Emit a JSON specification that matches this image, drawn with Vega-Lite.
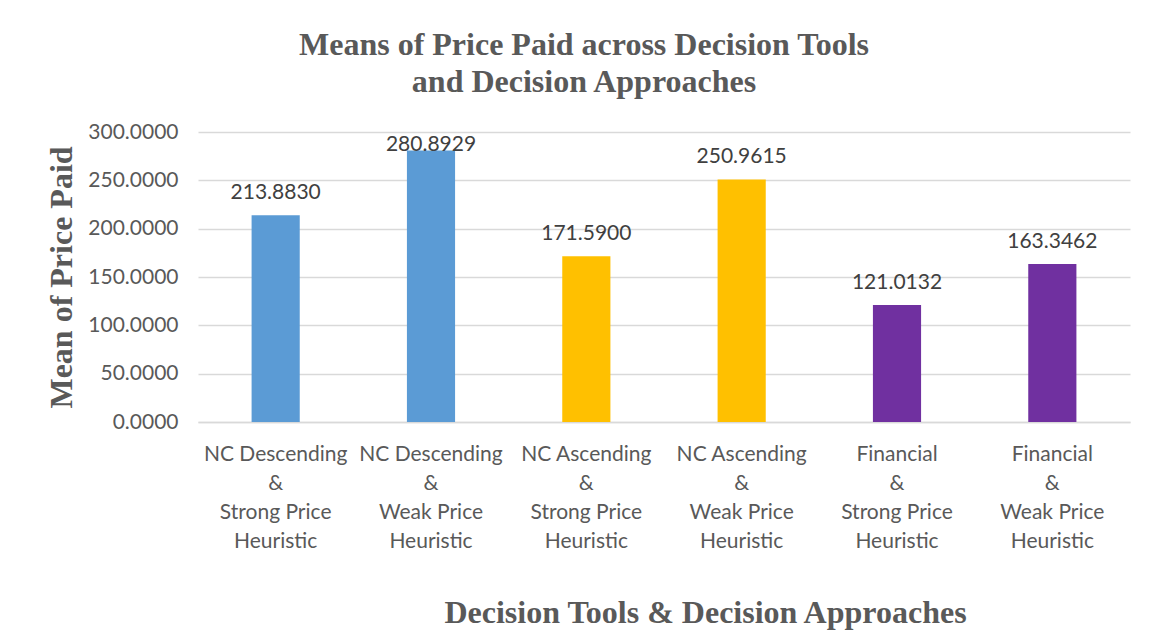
{
  "$schema": "https://vega.github.io/schema/vega-lite/v6.json",
  "autosize": "none",
  "width": 932,
  "height": 290,
  "padding": {"left": 198, "top": 132, "right": 24, "bottom": 210},
  "background": "white",
  "title": {
    "text": ["Means of Price Paid across Decision Tools", "and Decision Approaches"],
    "font": "Liberation Serif",
    "fontSize": 32,
    "fontWeight": "bold",
    "color": "#595959",
    "lineHeight": 37,
    "anchor": "middle",
    "dx": -80,
    "offset": 22
  },
  "data": {
    "values": [
      {"cat": "NC Descending|&|Strong Price|Heuristic", "value": 213.883, "label": "213.8830", "tool": "NC Descending"},
      {"cat": "NC Descending|&|Weak Price|Heuristic", "value": 280.8929, "label": "280.8929", "tool": "NC Descending"},
      {"cat": "NC Ascending|&|Strong Price|Heuristic", "value": 171.59, "label": "171.5900", "tool": "NC Ascending"},
      {"cat": "NC Ascending|&|Weak Price|Heuristic", "value": 250.9615, "label": "250.9615", "tool": "NC Ascending"},
      {"cat": "Financial|&|Strong Price|Heuristic", "value": 121.0132, "label": "121.0132", "tool": "Financial"},
      {"cat": "Financial|&|Weak Price|Heuristic", "value": 163.3462, "label": "163.3462", "tool": "Financial"}
    ]
  },
  "encoding": {
    "x": {
      "field": "cat",
      "type": "nominal",
      "sort": null,
      "scale": {"paddingInner": 0.69, "paddingOuter": 0.345},
      "axis": {
        "title": "Decision Tools & Decision Approaches",
        "titleFont": "Liberation Serif",
        "titleFontSize": 32,
        "titleFontWeight": "bold",
        "titleColor": "#595959",
        "titleX": 507,
        "titleY": 200,
        "titleBaseline": "alphabetic",
        "titleAnchor": "middle",
        "labelExpr": "split(datum.label, '|')",
        "labelAngle": 0,
        "labelFont": "Lato",
        "labelFontSize": 21,
        "labelColor": "#595959",
        "labelLineHeight": 29,
        "labelPadding": 21,
        "labelBaseline": "top",
        "ticks": false,
        "domainColor": "#d9d9d9",
        "domainWidth": 1.5
      }
    },
    "y": {
      "field": "value",
      "type": "quantitative",
      "scale": {"domain": [0, 300]},
      "axis": {
        "title": "Mean of Price Paid",
        "titleFont": "Liberation Serif",
        "titleFontSize": 32,
        "titleFontWeight": "bold",
        "titleColor": "#595959",
        "titlePadding": 9,
        "values": [0, 50, 100, 150, 200, 250, 300],
        "format": ".4f",
        "labelFont": "Lato",
        "labelFontSize": 21,
        "labelColor": "#595959",
        "labelPadding": 20,
        "ticks": false,
        "domain": false,
        "gridColor": "#d9d9d9",
        "gridWidth": 1.5
      }
    }
  },
  "layer": [
    {
      "mark": {"type": "bar"},
      "encoding": {
        "color": {
          "field": "tool",
          "type": "nominal",
          "scale": {"domain": ["NC Descending", "NC Ascending", "Financial"], "range": ["#5B9BD5", "#FFC000", "#7030A0"]},
          "legend": null
        }
      }
    },
    {
      "transform": [{"calculate": "min(datum.value, 264)", "as": "labelPos"}],
      "mark": {"type": "text", "font": "Lato", "fontSize": 21, "color": "#404040", "baseline": "alphabetic", "dy": -16},
      "encoding": {
        "y": {"field": "labelPos", "type": "quantitative"},
        "text": {"field": "label"}
      }
    }
  ],
  "config": {"view": {"stroke": null}}
}
